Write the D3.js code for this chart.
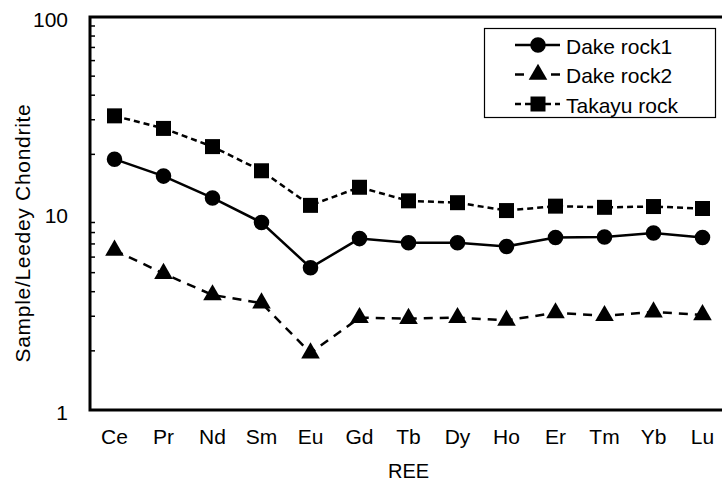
<!DOCTYPE html>
<html><head><meta charset="utf-8">
<script src="https://cdn.jsdelivr.net/npm/d3@7"></script>
<style>body{margin:0;background:#fff;}svg{display:block;font-family:"Liberation Sans",Arial,sans-serif;}</style>
</head><body>
<svg id="c" width="722" height="484"></svg>
<script>
const categories = ["Ce","Pr","Nd","Sm","Eu","Gd","Tb","Dy","Ho","Er","Tm","Yb","Lu"];
const dakeRock1 = [18.9,15.5,12.0,9.0,5.3,7.45,7.1,7.1,6.8,7.55,7.6,7.95,7.55];
const dakeRock2 = [6.5,4.95,3.85,3.5,1.95,2.95,2.92,2.95,2.86,3.12,3.02,3.15,3.05];
const takayuRock = [31.4,27.1,21.9,16.5,11.0,13.6,11.6,11.35,10.35,10.9,10.75,10.85,10.6];
const yTicks = [1,10,100];
const yMinor = [2,3,4,5,6,7,8,9,20,30,40,50,60,70,80,90];

const series = [
  {name:"Dake rock1", values:dakeRock1, symbol:d3.symbolCircle, dash:null},
  {name:"Dake rock2", values:dakeRock2, symbol:d3.symbolTriangle, dash:"9,7"},
  {name:"Takayu rock", values:takayuRock, symbol:d3.symbolSquare, dash:"6,4"}
];

const svg = d3.select("#c");
const L=90, R=727, T=17, B=410;
const x = d3.scaleBand().domain(categories).range([L,R]).padding(0);
const cx = c => x(c)+x.bandwidth()/2;
const y = d3.scaleLog().domain([1,100]).range([B,T]);

// minor ticks (inside)
svg.append("g").selectAll("line").data(yMinor).join("line")
  .attr("x1",L).attr("x2",L+5).attr("y1",d=>y(d)).attr("y2",d=>y(d))
  .attr("stroke","#000").attr("stroke-width",1.5);

// frame
svg.append("rect").attr("x",L).attr("y",T).attr("width",R-L).attr("height",B-T)
  .attr("fill","none").attr("stroke","#000").attr("stroke-width",3);

// y tick labels
svg.append("g").selectAll("text").data(yTicks).join("text")
  .attr("x",68).attr("y",d=>y(d)+2).attr("text-anchor","end").attr("dominant-baseline","central")
  .attr("font-size",21).text(d=>d);

// x tick labels
svg.append("g").selectAll("text").data(categories).join("text")
  .attr("x",d=>cx(d)).attr("y",444).attr("text-anchor","middle")
  .attr("font-size",21).text(d=>d);

// axis titles
svg.append("text").attr("x",cx("Tb")).attr("y",478).attr("text-anchor","middle")
  .attr("font-size",20).text("REE");
svg.append("text").attr("transform","translate(30,233) rotate(-90)").attr("text-anchor","middle")
  .attr("font-size",21).attr("letter-spacing","0.7px").text("Sample/Leedey Chondrite");

const line = d3.line().x((d,i)=>cx(categories[i])).y(d=>y(d));
const symSize = s => s===d3.symbolCircle?190:(s===d3.symbolSquare?225:150);
series.forEach(s=>{
  svg.append("path").attr("d",line(s.values)).attr("fill","none").attr("stroke","#000")
    .attr("stroke-width",2.5).attr("stroke-dasharray",s.dash);
  svg.append("g").selectAll("path").data(s.values).join("path")
    .attr("transform",(d,i)=>`translate(${cx(categories[i])},${y(d)})`)
    .attr("d",d3.symbol(s.symbol, symSize(s.symbol)))
    .attr("fill","#000");
});

// legend
const lg = svg.append("g");
lg.append("rect").attr("x",484.5).attr("y",28.5).attr("width",231).attr("height",89)
  .attr("fill","#fff").attr("stroke","#000").attr("stroke-width",1.2);
series.forEach((s,i)=>{
  const yy = 45 + i*29.5;
  lg.append("line").attr("x1",515).attr("x2",560).attr("y1",yy).attr("y2",yy)
    .attr("stroke","#000").attr("stroke-width",2.5).attr("stroke-dasharray",s.dash? (i===1?"9,9":"6,4"):null);
  lg.append("path").attr("transform",`translate(538,${yy})`)
    .attr("d",d3.symbol(s.symbol, symSize(s.symbol))).attr("fill","#000");
  lg.append("text").attr("x",566).attr("y",yy+1).attr("dominant-baseline","central")
    .attr("font-size",21).text(s.name);
});
</script>
</body></html>
